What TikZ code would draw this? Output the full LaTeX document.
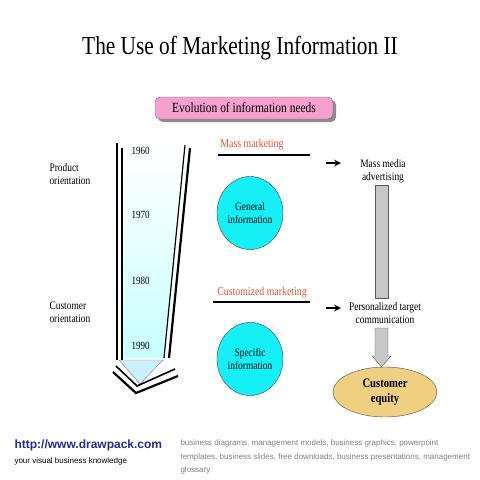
\documentclass[tikz,border=0pt]{standalone}
\usepackage{fontspec}
\usepackage{tkz-euclide}
\usetikzlibrary{shapes.geometric}
\setmainfont{Liberation Serif}[FakeStretch=0.82]
\newfontfamily\footfont{Liberation Sans}
\tikzset{>=stealth}
\definecolor{banner}{RGB}{245,160,205}
\definecolor{infocyan}{RGB}{20,240,245}
\definecolor{equity}{RGB}{238,208,128}
\definecolor{marketred}{RGB}{225,80,45}
\definecolor{linkblue}{RGB}{40,40,150}
\tikzset{
  yearlabel/.style={font=\fontsize{11}{12}\selectfont, anchor=west},
  sidelabel/.style={font=\fontsize{11.5}{13}\selectfont, align=left, anchor=west},
  marketlabel/.style={font=\fontsize{12}{13}\selectfont, text=marketred},
  infobubble/.style={ellipse, draw=black!75, fill=infocyan, minimum width=66pt, minimum height=73pt, inner sep=0pt, align=center, font=\fontsize{11.5}{13}\selectfont},
  targetlabel/.style={font=\fontsize{11.5}{13}\selectfont, align=center},
  grayshaft/.style={draw=black!65, fill=black!22},
}

\begin{document}
\begin{tikzpicture}[x=1pt, y=-1pt]
    \useasboundingbox (0,0) rectangle (480,480);
    % title and banner
    \node (title) at (240,48) {\fontsize{26}{28}\selectfont The Use of Marketing Information II};
    \fill[black!45, rounded corners=5pt] (158,100) rectangle (336,122);
    \node[draw=black!60, fill=banner, rounded corners=5pt, minimum width=178pt, minimum height=22pt,
          font=\fontsize{14}{15}\selectfont] (needs) at (244,108) {Evolution of information needs};
    % funnel
    \tkzDefPoints{117/143/LO, 117/360/LOb, 122/148/LI, 122/360/LIb,
                  185/145/RO, 164/358/ROb, 190/148/RI, 169/358/RIb}
    \shade[top color=white, bottom color=cyan!22] (122,150) -- (185,150) -- (164,358) -- (122,358) -- cycle;
    \draw[line width=2.2pt] (LO) -- (LOb);
    \draw[line width=1.2pt] (LI) -- (LIb);
    \draw[line width=1.2pt] (RO) -- (ROb);
    \draw[line width=2.2pt] (RI) -- (RIb);
    \tkzDefPoints{119/360/TA, 163/360/TB, 140/384/TC}
    \filldraw[fill=cyan!20, draw=black!50] (TA) -- (TB) -- (TC) -- cycle;
    \draw[line width=1.6pt] (116,366) -- (137,386) -- (175,369);
    \draw[line width=2.2pt] (113,372) -- (136,393) -- (178,376);
    % years
    \node[yearlabel] (y60) at (128,151) {1960};
    \node[yearlabel] (y70) at (128,215) {1970};
    \node[yearlabel] (y80) at (128,281) {1980};
    \node[yearlabel] (y90) at (128,346) {1990};
    \node[sidelabel] (product) at (46,174) {Product\\orientation};
    \node[sidelabel] (customer) at (46,312) {Customer\\orientation};
    % mass marketing
    \node[marketlabel] (mass) at (252,145) {Mass marketing};
    \draw[line width=2.2pt] (218,155) -- (310,155);
    \node[infobubble] (general) at (250,213) {General\\information};
    \node[targetlabel] (media) at (383,171) {Mass media\\advertising};
    \draw[->, line width=2pt] (326,163) -- (341,163);
    \filldraw[grayshaft] (375,185) rectangle (388,298);
    % customized marketing
    \node[marketlabel] (custom) at (262,293) {Customized marketing};
    \draw[line width=2.2pt] (213,302) -- (310,302);
    \node[infobubble] (specific) at (250,359) {Specific\\information};
    \node[targetlabel] (personal) at (385,313) {Personalized target\\communication};
    \draw[->, line width=2pt] (326,308) -- (341,308);
    \filldraw[grayshaft] (375,328) -- (388,328) -- (388,356) -- (391,356) -- (381.5,367)
                         -- (372,356) -- (375,356) -- cycle;
    \node[ellipse, draw=black!70, fill=equity, minimum width=104pt, minimum height=50pt, inner sep=0pt,
          align=center, font=\bfseries\fontsize{13}{15}\selectfont] (equity) at (385,392) {Customer\\equity};
    % footer
    \node[anchor=west, font=\footfont\bfseries\fontsize{12}{14}\selectfont, text=linkblue] (url) at (11,445) {http://www.drawpack.com};
    \node[anchor=west, font=\footfont\fontsize{8}{9}\selectfont] (slogan) at (11,461) {your visual business knowledge};
    \node[anchor=north west, align=left, text=black!50, font=\footfont\fontsize{8}{13.8}\selectfont] (keys) at (177,436)
      {business diagrams, management models, business graphics, powerpoint\\
       templates, business slides, free downloads, business presentations, management\\
       glossary};
\end{tikzpicture}
\end{document}
